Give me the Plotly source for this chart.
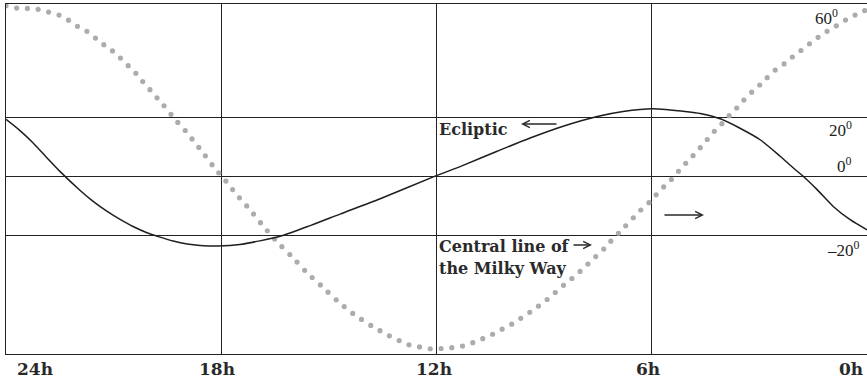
import plotly.graph_objects as go

# ---- data (RA in hours, declination in degrees) ----
ecl_ra = [24.0, 23.61, 23.25, 22.86, 22.49, 21.94, 21.57, 21.18, 20.82, 20.46,
          20.07, 19.73, 19.34, 18.95, 18.59, 18.09, 17.48, 16.36, 15.50, 14.69, 13.57, 12.09,
          11.26, 10.31, 9.39, 8.47, 7.52, 6.80, 5.96, 5.01, 4.65, 4.09, 3.54, 2.98,
          2.42, 2.06, 1.75, 1.39, 0.94, 0.47, 0.0]
ecl_dec = [19.5, 15.7, 11.6, 6.5, 1.8, -4.5, -8.3, -11.7, -14.4, -16.8,
           -18.9, -20.3, -21.7, -22.7, -23.2, -23.4, -22.9, -20.1, -16.4, -12.6, -7.4, 0.0,
           3.9, 8.7, 13.2, 17.2, 20.5, 22.2, 23.1, 22.1, 21.5, 19.7, 16.5, 12.6,
           7.0, 3.1, -0.1, -4.3, -10.0, -14.5, -17.9]

mw_ra = [24.0, 23.64, 23.36, 23.05, 22.77, 22.49, 22.24, 21.99, 21.74, 21.49, 21.27,
         21.04, 20.82, 20.63, 20.40, 20.21, 20.01, 19.82, 19.62, 19.46, 19.26, 19.07,
         18.51, 18.15, 17.95, 17.59, 17.20, 16.84, 16.45, 16.03, 15.64, 15.22, 14.77,
         14.33, 13.82, 13.32, 12.79, 12.51, 12.21, 11.96, 11.62, 11.34, 11.06, 10.79,
         10.51, 10.26, 10.01, 9.75, 9.50, 9.25, 9.03, 8.78, 8.58, 8.33, 8.14, 7.91,
         7.69, 7.47, 7.27, 7.08, 6.88, 6.24, 6.05, 5.85, 5.66, 5.43, 5.24, 5.04, 4.85,
         4.65, 4.46, 4.26, 4.07, 3.87, 3.65, 3.45, 3.26, 3.04, 2.81, 2.62, 2.37, 2.14,
         1.92, 1.70, 1.45, 1.22, 0.97, 0.72, 0.47, 0.19, 0.0]
mw_dec = [58.0, 57.1, 57.1, 56.7, 55.7, 54.7, 53.0, 50.9, 49.3, 46.9, 44.8,
          42.8, 40.4, 38.1, 35.4, 32.6, 29.9, 27.2, 24.5, 22.1, 19.1, 16.7,
          8.2, 2.5, -0.2, -5.7, -11.1, -16.5, -21.9, -27.0, -32.1, -36.8, -41.9,
          -46.3, -50.4, -53.8, -56.8, -57.5, -58.2, -58.2, -57.9, -57.5, -56.5, -55.2,
          -53.8, -52.1, -50.7, -48.7, -46.7, -44.6, -42.6, -40.2, -37.9, -35.5, -33.5, -31.1,
          -28.4, -26.0, -23.6, -20.9, -18.5, -10.4, -8.4, -5.7, -3.3, -0.6, 2.1, 4.8, 7.2,
          9.9, 12.6, 15.4, 17.7, 20.4, 23.1, 25.8, 28.2, 30.6, 33.3, 35.7, 37.7, 40.1,
          42.1, 44.2, 46.5, 48.6, 50.3, 52.3, 54.0, 55.7, 56.7]

x_tick_vals = [24, 18, 12, 6, 0]
x_tick_text = ["24h", "18h", "12h", "6h", "0h"]
y_grid_vals = [-20, 0, 20]
deg_vals = [60, 20, 0, -20]
deg_text = ["60<sup>0</sup>", "20<sup>0</sup>", "0<sup>0</sup>", "\u201320<sup>0</sup>"]

# ---- styling ----
W, H = 867, 382
ML, MR, MT, MB = 6, 0, 4, 28
PW, PH = W - ML - MR, H - MT - MB
LINE = "#222222"
TXT = "#2a2a2a"
BOLD = "DejaVu Serif"


def paper(px, py):
    return (px - ML) / PW, (MT + PH - py) / PH


fig = go.Figure()
fig.add_trace(go.Scatter(x=mw_ra, y=mw_dec, mode="lines", hoverinfo="skip",
                         line=dict(color="#acacac", width=5.2, dash="5px,5.6px",
                                   shape="spline", smoothing=0.6)))
fig.add_trace(go.Scatter(x=ecl_ra, y=ecl_dec, mode="lines", hoverinfo="skip",
                         line=dict(color="#1e1e1e", width=1.5,
                                   shape="spline", smoothing=0.7)))

ann = []
# hour labels below the frame
x_shifts = [29, -4, -3, -4, -16]
for v, t, s in zip(x_tick_vals, x_tick_text, x_shifts):
    ann.append(dict(x=v, y=paper(0, 369)[1], xref="x", yref="paper", text=t,
                    showarrow=False, xanchor="center", yanchor="middle", xshift=s,
                    font=dict(family=BOLD, size=17, color=TXT, weight="bold")))
# degree labels at the right
d_xshift = [-27, -13, -13, -5]
d_ypix = [17, 129, 165, 249]
for v, t, s, yp in zip(deg_vals, deg_text, d_xshift, d_ypix):
    ann.append(dict(x=0, y=paper(0, yp)[1], xref="x", yref="paper", text=t,
                    showarrow=False, xanchor="right", yanchor="middle", xshift=s,
                    font=dict(family="Liberation Serif", size=17, color=LINE)))

# text labels
for t, (px, py) in [("Ecliptic", (437, 129)), ("Central line of", (437, 246)),
                    ("the Milky Way", (437, 268))]:
    xx, yy = paper(px, py)
    ann.append(dict(x=xx, y=yy, xref="paper", yref="paper", text=t, showarrow=False,
                    xanchor="left", yanchor="middle",
                    font=dict(family=BOLD, size=16, color=TXT, weight="bold")))

# arrows (head position, tail offset in px)
for (hx, hy), axo in [((521, 124), 37), ((592, 245), -20), ((704, 215), -41)]:
    xx, yy = paper(hx, hy)
    ann.append(dict(x=xx, y=yy, xref="paper", yref="paper", text="", showarrow=True,
                    ax=axo, ay=0, arrowhead=5, arrowsize=1.1, arrowwidth=1.3,
                    arrowcolor=TXT))

fig.update_layout(
    width=W, height=H, margin=dict(l=ML, r=MR, t=MT, b=MB),
    paper_bgcolor="white", plot_bgcolor="white", showlegend=False,
    annotations=ann,
    xaxis=dict(range=[24, 0], tickvals=x_tick_vals, showticklabels=False, ticks="",
               showgrid=True, gridcolor=LINE, gridwidth=1.2, zeroline=False,
               showline=True, mirror=True, linecolor=LINE, linewidth=1.2, fixedrange=True),
    yaxis=dict(range=[-60, 58.6], tickvals=y_grid_vals, showticklabels=False, ticks="",
               showgrid=True, gridcolor=LINE, gridwidth=1.2, zeroline=False,
               showline=True, mirror=False, linecolor=LINE, linewidth=1.2, fixedrange=True),
)

post = """
document.body.style.margin = '0';
document.body.style.padding = '0';
var gd = document.getElementById('{plot_id}');
function roundDots(){
  var tr = gd.querySelectorAll('.scatterlayer .trace');
  if (tr.length > 0) {
    var p = tr[0].querySelector('path.js-line');
    if (p) { p.style.strokeDasharray = '0px,10.8px'; p.style.strokeLinecap = 'round'; }
  }
}
roundDots();
gd.on('plotly_afterplot', roundDots);
"""

fig.write_html("out.html", config={"displayModeBar": False}, post_script=post)
